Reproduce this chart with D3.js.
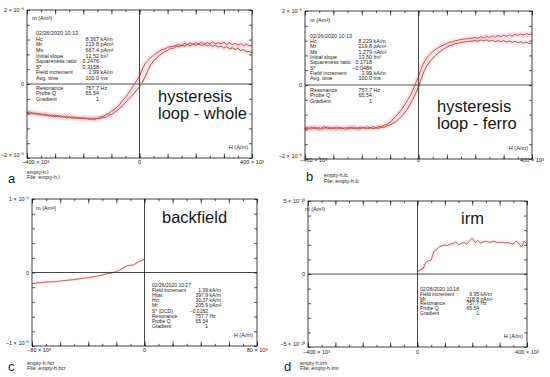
<!DOCTYPE html>
<html><head><meta charset="utf-8">
<script src="https://cdn.jsdelivr.net/npm/d3@7"></script>
<style>
body{margin:0;background:#fff}
svg{display:block}
text{font-family:"Liberation Sans",Arial,Helvetica,sans-serif;fill:#222}
</style>
</head><body>
<svg id="fig" width="550" height="377"></svg>
<script>
// ---------------- DATA ----------------
// field grid for loops: -400..400 kA/m (x10^3 A/m), step 10
const loopField = d3.range(-400, 401, 10);
// panel a (whole loop), units 1e-9 Am2
const wholeDesc = [
 -0.76,-0.80,-0.77,-0.82,-0.79,-0.84,-0.81,-0.86,-0.83,-0.88,
 -0.84,-0.89,-0.86,-0.90,-0.86,-0.92,-0.88,-0.93,-0.90,-0.94,
 -0.90,-0.95,-0.92,-0.96,-0.92,-0.93,-0.89,-0.88,-0.83,-0.80,
 -0.74,-0.69,-0.62,-0.55,-0.45,-0.36,-0.26,-0.15,-0.03,0.09,
 0.21,0.41,0.55,0.64,0.72,0.77,0.84,0.88,0.93,0.95,
 0.99,1.01,1.02,1.05,1.06,1.04,1.10,1.06,1.11,1.07,
 1.12,1.08,1.13,1.07,1.12,1.09,1.14,1.08,1.12,1.09,
 1.13,1.07,1.11,1.06,1.10,1.05,1.09,1.04,1.08,1.03,1.05];
const wholeAsc = [
 -0.78,-0.75,-0.81,-0.78,-0.83,-0.80,-0.85,-0.82,-0.87,-0.84,
 -0.89,-0.85,-0.90,-0.87,-0.92,-0.88,-0.93,-0.89,-0.94,-0.91,
 -0.95,-0.91,-0.96,-0.92,-0.97,-0.93,-0.94,-0.90,-0.90,-0.85,
 -0.82,-0.77,-0.72,-0.66,-0.58,-0.50,-0.42,-0.34,-0.26,-0.17,
 -0.07,0.05,0.19,0.37,0.52,0.62,0.70,0.77,0.82,0.88,
 0.91,0.97,0.96,1.02,1.00,1.05,1.02,1.07,1.03,1.08,
 1.04,1.08,1.04,1.07,1.03,1.06,1.01,1.05,1.00,1.02,
 0.97,1.01,0.95,0.98,0.93,0.96,0.90,0.93,0.87,0.88,0.84];
// panel b (ferro loop), units 1e-9 Am2
const ferroDesc = [
 -1.15,-1.19,-1.13,-1.18,-1.14,-1.20,-1.15,-1.13,-1.19,-1.14,
 -1.18,-1.13,-1.19,-1.15,-1.20,-1.14,-1.18,-1.13,-1.19,-1.15,
 -1.14,-1.18,-1.13,-1.17,-1.12,-1.16,-1.12,-1.13,-1.08,-1.06,
 -1.00,-0.93,-0.85,-0.76,-0.66,-0.55,-0.43,-0.30,-0.14,0.05,
 0.22,0.45,0.62,0.74,0.83,0.90,0.96,1.01,1.05,1.09,
 1.12,1.16,1.16,1.20,1.21,1.23,1.24,1.25,1.26,1.27,
 1.28,1.26,1.31,1.27,1.32,1.28,1.33,1.29,1.34,1.30,
 1.35,1.31,1.36,1.32,1.37,1.34,1.38,1.35,1.39,1.36,1.39];
const ferroAsc = [
 -1.18,-1.15,-1.20,-1.14,-1.19,-1.15,-1.20,-1.16,-1.14,-1.19,
 -1.15,-1.20,-1.14,-1.19,-1.15,-1.19,-1.14,-1.18,-1.15,-1.19,
 -1.17,-1.14,-1.19,-1.15,-1.18,-1.16,-1.17,-1.14,-1.14,-1.10,
 -1.08,-1.04,-0.99,-0.92,-0.85,-0.76,-0.66,-0.53,-0.39,-0.23,
 -0.05,0.17,0.38,0.52,0.63,0.72,0.80,0.87,0.93,0.98,
 1.02,1.07,1.08,1.12,1.13,1.15,1.16,1.17,1.18,1.19,
 1.20,1.18,1.22,1.19,1.22,1.18,1.21,1.17,1.20,1.17,
 1.20,1.16,1.19,1.15,1.18,1.14,1.17,1.13,1.16,1.12,1.13];
// panel c (backfield), field -80..0 step 2, units 1e-9 Am2
const backField = d3.range(-80, 1, 2);
const backMoment = [
 -0.150,-0.148,-0.140,-0.142,-0.135,-0.130,-0.128,-0.125,-0.127,-0.120,
 -0.115,-0.112,-0.108,-0.104,-0.100,-0.097,-0.090,-0.086,-0.080,-0.076,
 -0.070,-0.066,-0.058,-0.052,-0.040,-0.035,-0.022,-0.015,-0.010,0.002,
 0.015,0.030,0.052,0.075,0.092,0.100,0.100,0.125,0.150,0.160,0.190];
// panel d (IRM), field 0..400 step 10, units 1e-10 Am2
const irmField = d3.range(0, 401, 10);
const irmMoment = [
 0.15,0.28,0.35,0.80,0.90,0.95,1.55,1.70,1.85,1.95,
 1.98,1.95,2.05,2.08,2.20,2.00,2.10,2.15,2.05,2.25,
 2.45,2.15,2.30,2.12,2.20,2.25,2.18,2.20,2.25,2.15,
 2.15,2.18,2.12,2.15,2.10,2.05,2.25,2.10,1.85,2.25,2.05];

// tick labels
const yLabelsA = ["2 × 10⁻⁹", "0", "−2 × 10⁻⁹"];
const yLabelsC = ["1 × 10⁻⁹", "0", "−1 × 10⁻⁹"];
const yLabelsD = ["5 × 10⁻¹⁰", "0", "−5 × 10⁻¹⁰"];
const xLabels400 = ["−400 × 10³", "0", "400 × 10³"];
const xLabels80 = ["−80 × 10³", "0", "80 × 10³"];

// info blocks
const infoA1 = [["02/26/2020  10:13","",""],["Hc","8.367","kA/m"],["Mr","219.8","pAm²"],["Ms","667.4","pAm²"],
 ["Initial slope","12.52","fm³"],["Squareness ratio","0.2476",""],["S*","0.3158",""],["Field increment","1.99","kA/m"],["Avg. time","100.0","ms"]];
const infoA2 = [["Resonance","757.7","Hz"],["Probe Q","65.54",""],["Gradient","1",""]];
const infoB1 = [["02/26/2020  10:13","",""],["Hc","8.229","kA/m"],["Mr","219.8","pAm²"],["Ms","1.279","nAm²"],
 ["Initial slope","13.50","fm³"],["Squareness ratio","0.1718",""],["S*","−0.0484",""],["Field increment","1.99","kA/m"],["Avg. time","100.0","ms"]];
const infoB2 = [["Resonance","757.7","Hz"],["Probe Q","65.54",""],["Gradient","1",""]];
const infoC = [["02/26/2020  10:27","",""],["Field increment","1.99","kA/m"],["Hsat","397.9","kA/m"],["Hcr","30.37","kA/m"],
 ["Mr","205.9","pAm²"],["S* (DCD)","−0.0162",""],["Resonance","757.7","Hz"],["Probe Q","65.54",""],["Gradient","1",""]];
const infoD = [["02/26/2020  10:18","",""],["Field increment","9.95","kA/m"],["Mr","218.8","pAm²"],["Resonance","757.7","Hz"],
 ["Probe Q","65.54",""],["Gradient","1",""]];

// ---------------- DRAW ----------------
const svg = d3.select("#fig");
const RED = "#e2342b", OLIVE = "#74602a", BROWN = "#b0553a", HALO = "#f8c2d8";

function panel(o){
  const g = svg.append("g");
  const x = d3.scaleLinear().domain(o.xDom).range([o.left, o.right]);
  const y = d3.scaleLinear().domain(o.yDom).range([o.bottom, o.top]);
  const line = d3.line().x(d=>x(d[0])).y(d=>y(d[1]));
  o.series.forEach(s=>{
    g.append("path").datum(s.pts).attr("d", line).attr("fill","none")
      .attr("stroke", HALO).attr("stroke-width", o.haloW).attr("stroke-opacity",o.haloOp).attr("stroke-linejoin","round");
  });
  o.series.forEach(s=>{
    g.append("path").datum(s.pts).attr("d", line).attr("fill","none")
      .attr("stroke", s.color).attr("stroke-width", 0.9).attr("stroke-linejoin","round");
  });
  g.append("line").attr("x1",o.left).attr("x2",o.right).attr("y1",y(0)).attr("y2",y(0))
    .attr("stroke",o.hzColor).attr("stroke-width",o.hzWidth);
  g.append("line").attr("x1",x(0)).attr("x2",x(0)).attr("y1",o.top).attr("y2",o.bottom)
    .attr("stroke","#333").attr("stroke-width",0.9);
  g.append("rect").attr("x",o.left).attr("y",o.top).attr("width",o.right-o.left).attr("height",o.bottom-o.top)
    .attr("fill","none").attr("stroke","#111").attr("stroke-width",0.8);
  const minor = d3.range(o.xDom[0], o.xDom[1]+1e-9, o.xMinor);
  const major = d3.range(o.xDom[0], o.xDom[1]+1e-9, o.xMajor);
  const yt = d3.range(o.yDom[0], o.yDom[1]+1e-9, o.yStep);
  const ax = [
    [d3.axisBottom(x).tickValues(minor).tickSize(-2.2), o.bottom],
    [d3.axisBottom(x).tickValues(major).tickSize(-4.5), o.bottom],
    [d3.axisTop(x).tickValues(minor).tickSize(-2.2), o.top],
    [d3.axisTop(x).tickValues(major).tickSize(-4.5), o.top]];
  ax.forEach(([a,ty])=>{
    const t = g.append("g").attr("transform",`translate(0,${ty})`).call(a.tickFormat(""));
    t.select(".domain").remove();
    t.selectAll("line").attr("stroke","#111").attr("stroke-width",0.7);
  });
  [[d3.axisLeft(y).tickValues(yt).tickSize(-3), o.left],[d3.axisRight(y).tickValues(yt).tickSize(-3), o.right]].forEach(([a,tx])=>{
    const t = g.append("g").attr("transform",`translate(${tx},0)`).call(a.tickFormat(""));
    t.select(".domain").remove();
    t.selectAll("line").attr("stroke","#111").attr("stroke-width",0.7);
  });
  const fs = 5.6;
  const yv = [o.yDom[1], 0, o.yDom[0]];
  const ydy = [2, 2, -1.5];
  o.yLabels.forEach((s,i)=>{
    g.append("text").attr("x", o.left-3).attr("y", y(yv[i])+ydy[i]).attr("text-anchor","end")
      .attr("font-size",fs).text(s);
  });
  const xv = [o.xDom[0], 0, o.xDom[1]];
  o.xLabels.forEach((s,i)=>{
    const anchor = i===0 ? "start" : "middle";
    const xx = i===0 ? o.left-5 : x(xv[i]);
    g.append("text").attr("x", xx).attr("y", o.bottom+o.xLabDy).attr("text-anchor",anchor)
      .attr("font-size",fs).text(s);
  });
  g.append("text").attr("x", o.mLab[0]).attr("y", o.mLab[1]).attr("font-size",fs).text("m (Am²)");
  g.append("text").attr("x", o.right-4).attr("y", o.bottom-9).attr("text-anchor","end").attr("font-size",fs).text("H (A/m)");
  o.info.forEach(b=>{
    b.rows.forEach((r,i)=>{
      const yy = b.y0 + i*b.dy;
      g.append("text").attr("x",b.xl).attr("y",yy).attr("font-size",b.fs).text(r[0]);
      if(r[1]) g.append("text").attr("x",b.xv).attr("y",yy).attr("text-anchor","end").attr("font-size",b.fs).text(r[1]);
      if(r[2]) g.append("text").attr("x",b.xv+1.5).attr("y",yy).attr("font-size",b.fs).text(r[2]);
    });
  });
  o.big.forEach((s,i)=>{
    g.append("text").attr("x",o.bigPos[0]).attr("y",o.bigPos[1]+i*17).attr("font-size",16.5).style("fill","#161616").text(s);
  });
  g.append("text").attr("x",o.letter[0]).attr("y",o.letter[1]).attr("font-size",13).text(o.letterText);
  g.append("text").attr("x",o.file[0]).attr("y",o.file[1]).attr("font-size",5.2).text(o.fileName);
  g.append("text").attr("x",o.file[0]).attr("y",o.file[1]+5.6).attr("font-size",5.2).text("File:  " + o.fileName);
}

const zip = (xs, ys) => xs.map((v,i)=>[v, ys[i]]);

panel({left:27,right:252,top:10,bottom:158,xDom:[-400,400],yDom:[-2,2],xMajor:100,xMinor:50,yStep:0.4,
  hzColor:"#8a8a8a",hzWidth:1.6,haloW:5,haloOp:0.45,
  series:[{pts:zip(loopField,wholeAsc),color:OLIVE},{pts:zip(loopField,wholeDesc),color:RED}],
  yLabels:yLabelsA,xLabels:xLabels400,xLabDy:6,mLab:[32,20],
  info:[{rows:infoA1,xl:36,xv:99,y0:35.3,dy:5.55,fs:5.4},{rows:infoA2,xl:36,xv:99,y0:89.5,dy:5.5,fs:5.4}],
  big:["hysteresis","loop - whole"],bigPos:[158,102],
  letter:[8,183],letterText:"a",file:[27,173.5],fileName:"empty-h.l"});

panel({left:305,right:532,top:11,bottom:159,xDom:[-400,400],yDom:[-2,2],xMajor:100,xMinor:50,yStep:0.4,
  hzColor:"#555",hzWidth:1.0,haloW:5,haloOp:0.45,
  series:[{pts:zip(loopField,ferroAsc),color:OLIVE},{pts:zip(loopField,ferroDesc),color:RED}],
  yLabels:yLabelsA,xLabels:xLabels400,xLabDy:3,mLab:[310,22],
  info:[{rows:infoB1,xl:310,xv:372,y0:37.7,dy:5.33,fs:5.4},{rows:infoB2,xl:310,xv:372,y0:92,dy:5.4,fs:5.4}],
  big:["hysteresis","loop - ferro"],bigPos:[437,112],
  letter:[306,181],letterText:"b",file:[324,177],fileName:"empty-h.lc"});

panel({left:32,right:257,top:199,bottom:346,xDom:[-80,80],yDom:[-1,1],xMajor:20,xMinor:10,yStep:0.2,
  hzColor:"#333",hzWidth:0.9,haloW:4,haloOp:0.3,
  series:[{pts:zip(backField,backMoment),color:BROWN}],
  yLabels:yLabelsC,xLabels:xLabels80,xLabDy:6,mLab:[36,210],
  info:[{rows:infoC,xl:152,xv:208,y0:287,dy:5.1,fs:5.0}],
  big:["backfield"],bigPos:[162,223],
  letter:[8,371],letterText:"c",file:[27,364.5],fileName:"empty-h.hcr"});

panel({left:308,right:527,top:201,bottom:347,xDom:[-400,400],yDom:[-5,5],xMajor:100,xMinor:50,yStep:1,
  hzColor:"#333",hzWidth:0.9,haloW:4,haloOp:0.3,
  series:[{pts:zip(irmField,irmMoment),color:BROWN}],
  yLabels:yLabelsD,xLabels:xLabels400,xLabDy:7,mLab:[305,211],
  info:[{rows:infoD,xl:420,xv:479,y0:291,dy:4.75,fs:5.0}],
  big:["irm"],bigPos:[461,224],
  letter:[284,371],letterText:"d",file:[300,364.5],fileName:"empty-h.irm"});
</script>
</body></html>
